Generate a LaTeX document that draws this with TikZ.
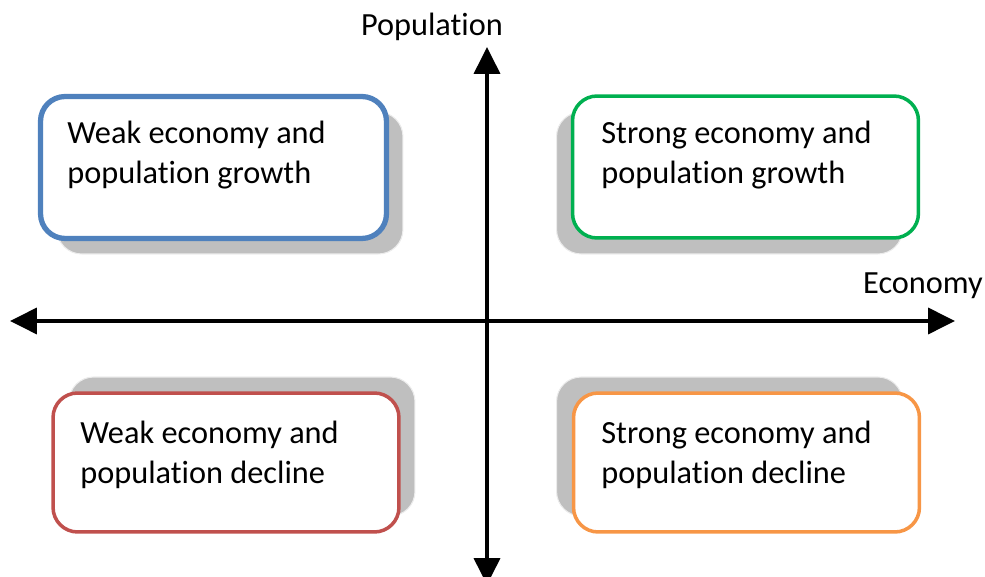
\documentclass[tikz,border=0pt]{standalone}
\usepackage{fontspec}
\setmainfont{Carlito}[Ligatures={NoCommon,NoContextual}]
\usetikzlibrary{arrows.meta,positioning}

\begin{document}
\begin{tikzpicture}[x=0.02cm,y=-0.02cm,>={Triangle[length=15.3pt,width=14.7pt]},
    font=\fontsize{18.4pt}{22.4pt}\selectfont]
  \tikzstyle{box}=[rectangle,rounded corners=14pt,fill=white,line width=2pt,
                   minimum width=6.92cm,minimum height=2.84cm]
  \tikzstyle{shadow}=[box,fill=gray!50,draw=white!85!gray,line width=0.6pt]
  \tikzstyle{label}=[align=left,anchor=north west,inner sep=0pt]
  \tikzstyle{axis}=[line width=2.3pt,<->]
  \useasboundingbox (0,0) rectangle (985,577);
  % axes
  \coordinate (west) at (10,321);
  \coordinate (east) at (955,321);
  \coordinate (north) at (487,47);
  \coordinate (south) at (487,585);
  \draw [axis] (west) -- (east);
  \draw [axis] (south) -- (north);
  \node (pop) at (432,27) {Population};
  \node (eco) at (923,286) {Economy};
  % weak economy, growth
  \node [shadow] (wgs) at (230,183) {};
  \node [box,draw={rgb,255:red,79;green,129;blue,189},line width=3pt] (wg) at (213.5,167.5) {};
  \node [label] (wgt) at (67,121) {Weak economy and\\population growth};
  % strong economy, growth
  \node [shadow] (sgs) at (729.5,183) {};
  \node [box,draw={rgb,255:red,0;green,176;blue,80}] (sg) at (745.5,167) {};
  \node [label] (sgt) at (601,121) {Strong economy and\\population growth};
  % weak economy, decline
  \node [shadow,minimum height=2.78cm] (wds) at (242,446.5) {};
  \node [box,minimum height=2.78cm,draw={rgb,255:red,192;green,80;blue,77}] (wd) at (226,462.5) {};
  \node [label] (wdt) at (80,421) {Weak economy and\\population decline};
  % strong economy, decline
  \node [shadow,minimum height=2.78cm] (sds) at (729.5,446.5) {};
  \node [box,minimum height=2.78cm,draw={rgb,255:red,247;green,150;blue,70}] (sd) at (746.5,462.5) {};
  \node [label] (sdt) at (601,421) {Strong economy and\\population decline};
\end{tikzpicture}
\end{document}
